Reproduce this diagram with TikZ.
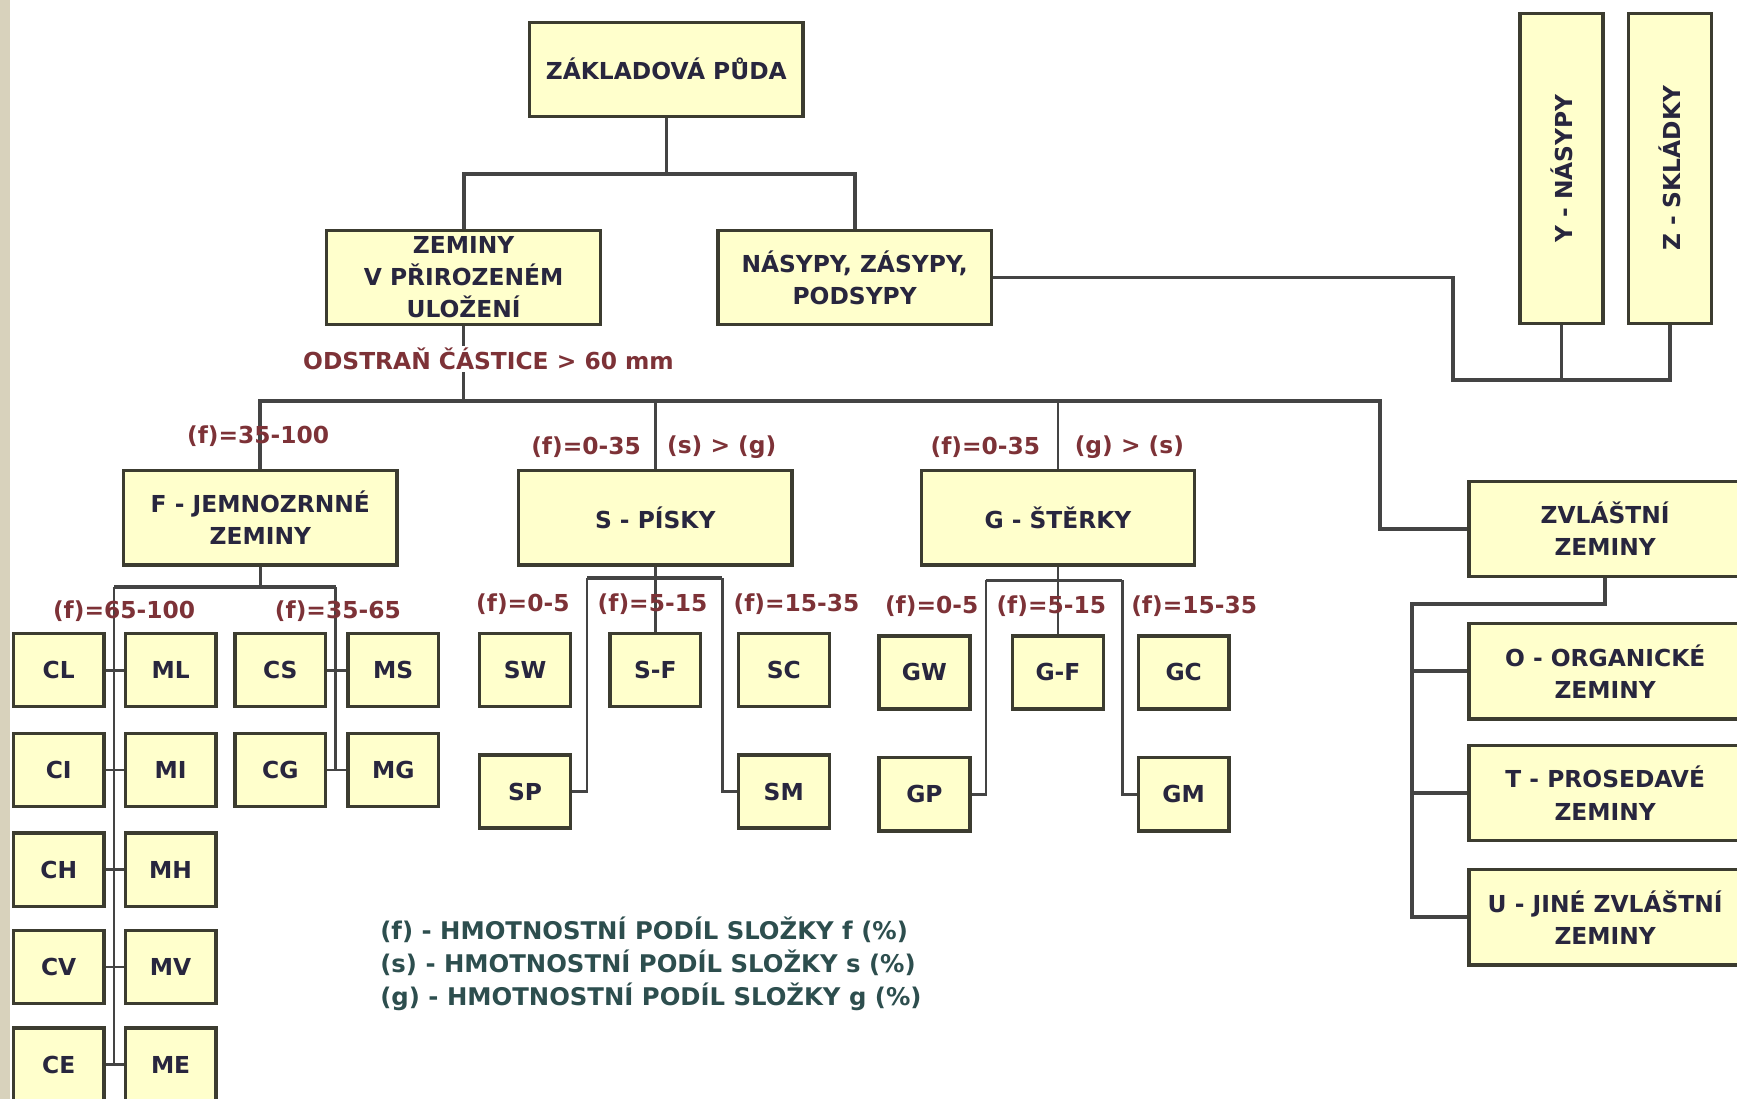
\documentclass[tikz,border=0pt]{standalone}
\usepackage{fontspec}
\usepackage{graphicx}
\setmainfont{DejaVu Sans}
\definecolor{boxfill}{RGB}{255,255,204}
\definecolor{boxline}{RGB}{60,60,48}
\definecolor{boxtext}{RGB}{40,38,62}
\definecolor{linecol}{RGB}{68,68,68}
\definecolor{lblcol}{RGB}{125,50,55}
\definecolor{legcol}{RGB}{45,78,78}
\definecolor{stripcol}{RGB}{216,210,188}

\begin{document}
\begin{tikzpicture}[x=0.02cm,y=-0.02cm,
  box/.style={draw=boxline,fill=boxfill,line width=1.7pt,inner sep=0pt,align=center,text=boxtext,font=\fontsize{12}{16.5}\selectfont\bfseries},
  big/.style={box,minimum width=4.94cm,minimum height=1.7cm},
  small/.style={box,minimum width=1.64cm,minimum height=1.32cm},
  side/.style={box,minimum width=4.92cm,minimum height=1.72cm},
  tall/.style={box,minimum width=1.5cm,minimum height=5.6cm},
  conn/.style={draw=linecol,line width=1.4pt},
  bus/.style={draw=linecol,line width=2pt},
  lbl/.style={text=lblcol,inner sep=1pt,font=\fontsize{12}{14}\selectfont\bfseries}]
\useasboundingbox (0,0) rectangle (1568,992);
\fill[stripcol] (0,0) rectangle (9,992);

% main boxes
\node[big] (base) at (601.5,62.5) {ZÁKLADOVÁ PŮDA};
\node[big] (zem) at (418.5,250.5) {ZEMINY\\V PŘIROZENÉM\\ULOŽENÍ};
\node[big] (nas) at (771.5,250.5) {NÁSYPY, ZÁSYPY,\\PODSYPY};
\node[tall] (Y) at (1409.5,152) {\rotatebox{90}{Y - NÁSYPY}};
\node[tall] (Z) at (1507.5,152) {\rotatebox{90}{Z - SKLÁDKY}};
\node[big] (F) at (235,467.5) {F - JEMNOZRNNÉ\\ZEMINY};
\node[big] (S) at (591.5,467.5) {S - PÍSKY};
\node[big] (G) at (955,467.5) {G - ŠTĚRKY};
\node[side] (zvl) at (1449,477.5) {ZVLÁŠTNÍ\\ZEMINY};
\node[side] (O) at (1449,606) {O - ORGANICKÉ\\ZEMINY};
\node[side] (T) at (1449,716) {T - PROSEDAVÉ\\ZEMINY};
\node[side] (U) at (1449,828) {U - JINÉ ZVLÁŠTNÍ\\ZEMINY};

% fine-grained soils
\node[small] (CL) at (53,605) {CL};
\node[small] (ML) at (154,605) {ML};
\node[small] (CI) at (53,695) {CI};
\node[small] (MI) at (154,695) {MI};
\node[small] (CH) at (53,785) {CH};
\node[small] (MH) at (154,785) {MH};
\node[small] (CV) at (53,873) {CV};
\node[small] (MV) at (154,873) {MV};
\node[small] (CE) at (53,961) {CE};
\node[small] (ME) at (154,961) {ME};
\node[small] (CS) at (253,605) {CS};
\node[small] (MS) at (355,605) {MS};
\node[small] (CG) at (253,695) {CG};
\node[small] (MG) at (355,695) {MG};

% sands
\node[small] (SW) at (474,605) {SW};
\node[small] (SF) at (591.5,605) {S-F};
\node[small] (SC) at (707.5,605) {SC};
\node[small] (SP) at (474,714.5) {SP};
\node[small] (SM) at (707.5,714.5) {SM};

% gravels
\node[small] (GW) at (834.5,607) {GW};
\node[small] (GF) at (955,607) {G-F};
\node[small] (GC) at (1068.5,607) {GC};
\node[small] (GP) at (834.5,717) {GP};
\node[small] (GM) at (1068.5,717) {GM};

% top level
\coordinate (j1) at (596,157);
\draw[conn] (base.south) -- (base.south |- j1);
\draw[bus] (zem.north) |- (j1) -| (nas.north);
\coordinate (yz) at (1312,343);
\draw[bus] (nas.east) -| (yz) -| (Z.south);
\draw[conn] (Y.south) -- (Y.south |- yz);

% soils in natural state
\coordinate (busR) at (1246,362);
\draw[bus] (F.north) |- (busR) |- (zvl.west);
\draw[conn] (zem.south) -- (zem.south |- busR);
\draw[conn] (S.north) -- (S.north |- busR);
\draw[conn] (G.north) -- (G.north |- busR);

% F
\coordinate (fL) at (103,530);
\coordinate (fR) at (303,530);
\draw[conn] (F.south) -- (F.south |- fL);
\draw[bus] (fL) -- (fR);
\draw[conn] (fL) -- (fL |- CE.east);
\draw[conn] (fR) -- (fR |- CG.east);
\draw[conn] (CL.east) -- (ML.west);
\draw[conn] (CI.east) -- (MI.west);
\draw[conn] (CH.east) -- (MH.west);
\draw[conn] (CV.east) -- (MV.west);
\draw[conn] (CE.east) -- (ME.west);
\draw[conn] (CS.east) -- (MS.west);
\draw[conn] (CG.east) -- (MG.west);

% S
\coordinate (sL) at (530,522);
\coordinate (sR) at (652,522);
\draw[conn] (S.south) -- (SF.north);
\draw[bus] (sL) -- (sR);
\draw[conn] (sL) |- (SP.east);
\draw[conn] (sR) |- (SM.west);

% G
\coordinate (gL) at (890,524);
\coordinate (gR) at (1013,524);
\draw[conn] (G.south) -- (GF.north);
\draw[bus] (gL) -- (gR);
\draw[conn] (gL) |- (GP.east);
\draw[conn] (gR) |- (GM.west);

% special soils
\coordinate (zL) at (1275,545);
\draw[bus] (zvl.south) |- (zL) |- (U.west);
\draw[bus] (zL |- O.west) -- (O.west);
\draw[bus] (zL |- T.west) -- (T.west);

% labels
\node[lbl,fill=white] (odstr) at (441,324) {ODSTRAŇ ČÁSTICE > 60 mm};
\node[lbl] (fF) at (233,394) {(f)=35-100};
\node[lbl] (fS) at (529,404) {(f)=0-35};
\node[lbl] (sg) at (651.5,404) {(s) > (g)};
\node[lbl] (fG) at (889.5,404) {(f)=0-35};
\node[lbl] (gs) at (1019.5,404) {(g) > (s)};
\node[lbl] (fC) at (112,552) {(f)=65-100};
\node[lbl] (fM) at (305,552) {(f)=35-65};
\node[lbl] (fSW) at (472,545) {(f)=0-5};
\node[lbl] (fSF) at (589,545) {(f)=5-15};
\node[lbl] (fSC) at (719,545) {(f)=15-35};
\node[lbl] (fGW) at (841,547) {(f)=0-5};
\node[lbl] (fGF) at (949,547) {(f)=5-15};
\node[lbl] (fGC) at (1078,547) {(f)=15-35};

% legend
\node[anchor=west,align=left,text=legcol,inner sep=0pt,font=\fontsize{12.5}{17}\selectfont\bfseries] (legend) at (343,870)
  {(f) - HMOTNOSTNÍ PODÍL SLOŽKY f (\%)\\(s) - HMOTNOSTNÍ PODÍL SLOŽKY s (\%)\\(g) - HMOTNOSTNÍ PODÍL SLOŽKY g (\%)};
\end{tikzpicture}
\end{document}
